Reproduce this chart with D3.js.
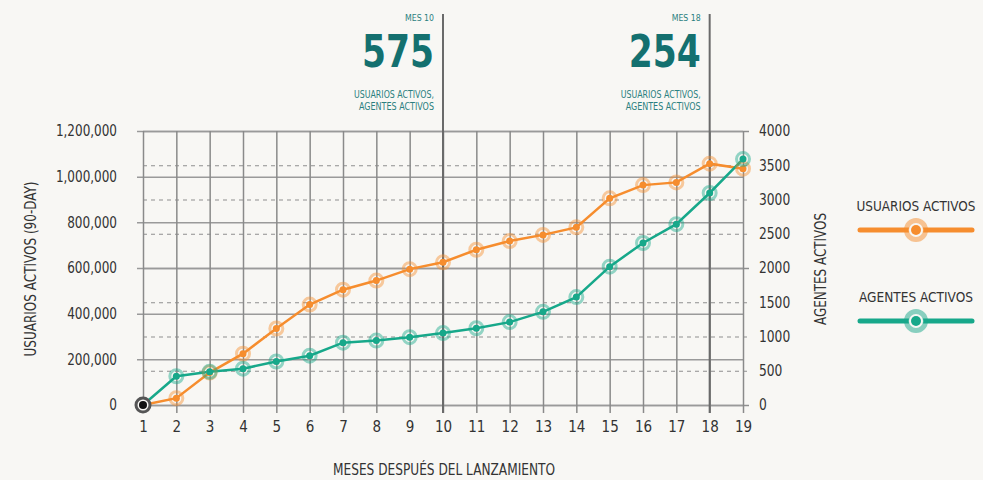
<!DOCTYPE html>
<html>
<head>
<meta charset="utf-8">
<script src="https://cdn.jsdelivr.net/npm/d3@7"></script>
<style>
  html, body { margin: 0; padding: 0; background: #f8f7f4; }
  svg { display: block; }
  text { font-family: "DejaVu Sans Condensed", "Liberation Sans Narrow", sans-serif; fill: #333; }
</style>
</head>
<body>
<div id="chart"></div>
<script>
// data
const months = d3.range(1, 20);
const usuarios = [0, 30000, 142000, 225000, 335000, 440000, 505000, 545000, 595000, 625000,
  680000, 718000, 745000, 778000, 905000, 963000, 975000, 1057000, 1035000];
const agentes = [0, 420, 485, 530, 635, 720, 910, 940, 990, 1050,
  1120, 1210, 1360, 1575, 2020, 2365, 2640, 3095, 3590];
const leftTicks = [0, 200000, 400000, 600000, 800000, 1000000, 1200000];
const rightTicks = [0, 500, 1000, 1500, 2000, 2500, 3000, 3500, 4000];
const callouts = [
  { month: 10, label: 'MES 10', value: '575' },
  { month: 18, label: 'MES 18', value: '254' },
];
const seriesNames = ['USUARIOS ACTIVOS', 'AGENTES ACTIVOS'];

const W = 983, H = 480;
const orange = '#f68d2e', green = '#17a88a', teal = '#14706f', tealLight = '#2b7f80';

const svg = d3.select('#chart').append('svg')
  .attr('width', W).attr('height', H);

const x = d3.scaleLinear().domain([1, 19]).range([143, 743]);
const yL = d3.scaleLinear().domain([0, 1200000]).range([405, 131]);
const yR = d3.scaleLinear().domain([0, 4000]).range([405, 131]);

// squeeze a text to a measured width
function fit(sel, w) {
  return sel.attr('textLength', w).attr('lengthAdjust', 'spacingAndGlyphs');
}

// right axis (dashed grid for the in-between ticks)
const gR = svg.append('g')
  .attr('transform', 'translate(143,0)')
  .call(d3.axisRight(yR).tickValues(rightTicks).tickSize(606).tickPadding(10)
    .tickFormat(d3.format('d')));
gR.select('.domain').remove();
gR.selectAll('.tick line')
  .attr('stroke', '#8f8f8f')
  .attr('stroke-width', d => (d % 2000 === 0) ? 1.5 : 1)
  .attr('stroke-dasharray', d => (d % 2000 === 0) ? null : '4,4');
gR.selectAll('.tick text').attr('font-size', 15).style('fill', '#333')
  .each(function (d) { fit(d3.select(this), String(d).length * 7.8); });

// left axis with solid grid
const gL = svg.append('g')
  .attr('transform', 'translate(137,0)')
  .call(d3.axisLeft(yL).tickValues(leftTicks).tickSize(-606).tickPadding(20)
    .tickFormat(d3.format(',')));
gL.select('.domain').remove();
gL.selectAll('.tick line').attr('stroke', '#9a9a9a').attr('stroke-width', 1.5);
gL.selectAll('.tick text').attr('font-size', 15).style('fill', '#333')
  .each(function (d) {
    const s = d3.format(',')(d);
    const digits = s.replace(/,/g, '').length;
    const commas = s.length - digits;
    fit(d3.select(this), digits * 7.7 + commas * 3.6);
  });

// x axis with vertical grid
const gX = svg.append('g')
  .attr('transform', 'translate(0,131)')
  .call(d3.axisBottom(x).tickValues(months).tickSize(282).tickPadding(8).tickFormat(d3.format('d')));
gX.select('.domain').remove();
gX.selectAll('.tick line')
  .attr('stroke', '#8a8a8a').attr('stroke-width', 1.5);
gX.selectAll('.tick text').attr('font-size', 15).style('fill', '#333');

// callouts
callouts.forEach(c => {
  const cx = x(c.month);
  svg.append('line')
    .attr('x1', cx).attr('x2', cx).attr('y1', 14).attr('y2', 413)
    .attr('stroke', '#6a6a6a').attr('stroke-width', 2);
  const tx = cx - 9;
  fit(svg.append('text').attr('x', tx).attr('y', 21).attr('text-anchor', 'end')
    .attr('font-size', 9.5).style('fill', tealLight).text(c.label), 29);
  fit(svg.append('text').attr('x', tx).attr('y', 67).attr('text-anchor', 'end')
    .attr('font-size', 45).attr('font-weight', 'bold').style('fill', teal).text(c.value), 72);
  fit(svg.append('text').attr('x', tx).attr('y', 98).attr('text-anchor', 'end')
    .attr('font-size', 10).style('fill', tealLight).text('USUARIOS ACTIVOS,'), 80);
  fit(svg.append('text').attr('x', tx).attr('y', 110).attr('text-anchor', 'end')
    .attr('font-size', 10).style('fill', tealLight).text('AGENTES ACTIVOS'), 75);
});

// axis titles
fit(svg.append('text').attr('x', 444).attr('y', 475).attr('text-anchor', 'middle')
  .attr('font-size', 15).text('MESES DESPUÉS DEL LANZAMIENTO'), 222);
fit(svg.append('text').attr('transform', 'translate(36,269) rotate(-90)').attr('text-anchor', 'middle')
  .attr('font-size', 15).text('USUARIOS ACTIVOS (90-DAY)'), 175);
fit(svg.append('text').attr('transform', 'translate(826,269) rotate(-90)').attr('text-anchor', 'middle')
  .attr('font-size', 15).text('AGENTES ACTIVOS'), 112);

// series
const series = [
  { vals: usuarios, y: yL, color: orange },
  { vals: agentes, y: yR, color: green },
];

series.forEach(s => {
  const line = d3.line().x((d, i) => x(months[i])).y(d => s.y(d));
  svg.append('path').datum(s.vals)
    .attr('d', line).attr('fill', 'none')
    .attr('stroke', s.color).attr('stroke-width', 2.5);
});

series.forEach(s => {
  const pts = svg.append('g').selectAll('g')
    .data(s.vals.slice(1).map((v, i) => ({ m: months[i + 1], v })))
    .enter().append('g')
    .attr('transform', d => `translate(${x(d.m)},${s.y(d.v)})`);
  pts.append('circle').attr('r', 6.5).attr('fill', 'none')
    .attr('stroke', s.color).attr('stroke-opacity', 0.45).attr('stroke-width', 3);
  pts.append('circle').attr('r', 3.5).attr('fill', s.color);
});

// start marker
const s0 = svg.append('g').attr('transform', `translate(${x(1)},${yL(usuarios[0])})`);
s0.append('circle').attr('r', 7).attr('fill', '#f8f7f4')
  .attr('stroke', '#555').attr('stroke-width', 3);
s0.append('circle').attr('r', 4).attr('fill', '#111');

// legend
[{ name: seriesNames[0], color: orange, y: 230, w: 119 }, { name: seriesNames[1], color: green, y: 321, w: 114 }]
  .forEach(l => {
    fit(svg.append('text').attr('x', 916).attr('y', l.y - 19).attr('text-anchor', 'middle')
      .attr('font-size', 14).text(l.name), l.w);
    svg.append('line').attr('x1', 860).attr('x2', 972).attr('y1', l.y).attr('y2', l.y)
      .attr('stroke', l.color).attr('stroke-width', 5).attr('stroke-linecap', 'round');
    svg.append('circle').attr('cx', 916).attr('cy', l.y).attr('r', 7.5).attr('fill', '#f8f7f4');
    svg.append('circle').attr('cx', 916).attr('cy', l.y).attr('r', 9.5).attr('fill', 'none')
      .attr('stroke', l.color).attr('stroke-opacity', 0.5).attr('stroke-width', 5);
    svg.append('circle').attr('cx', 916).attr('cy', l.y).attr('r', 5).attr('fill', l.color);
  });
</script>
</body>
</html>
